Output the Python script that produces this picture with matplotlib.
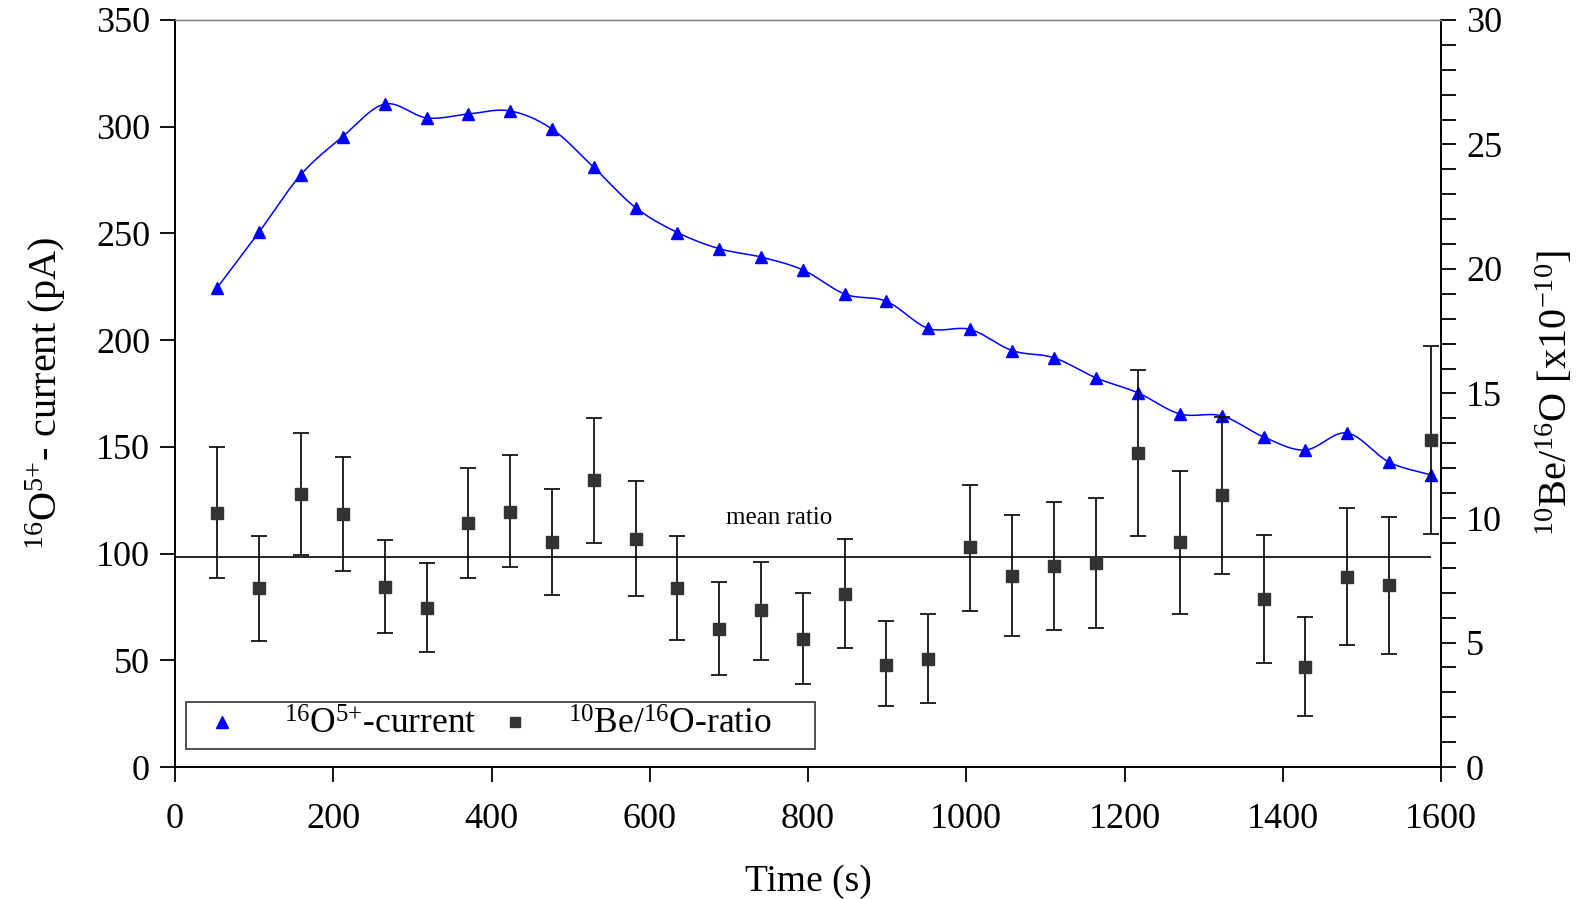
import numpy as np
import matplotlib
matplotlib.use('Agg')
from matplotlib import pyplot as plt
from matplotlib.lines import Line2D
from matplotlib.ticker import MultipleLocator

plt.rcParams['font.family'] = 'Liberation Serif'
plt.rcParams['mathtext.fontset'] = 'custom'
plt.rcParams['mathtext.rm'] = 'Liberation Serif'
plt.rcParams['mathtext.it'] = 'Liberation Serif:italic'
plt.rcParams['mathtext.default'] = 'rm'

#  measurement times (s)
time_s = [53, 106, 159, 212, 265, 318, 370, 423, 476, 529,
          582, 635, 688, 741, 794, 847, 899, 952, 1005, 1058,
          1111, 1164, 1217, 1270, 1323, 1376, 1428, 1481, 1534, 1587]

#  16O5+ current (pA)
current = [224.4, 250.5, 277.5, 295.4, 310.6, 304.1, 305.9, 307.4, 299.0, 281.0,
           262.1, 250.4, 242.8, 238.9, 232.8, 221.5, 218.2, 205.5, 205.0, 195.1,
           191.7, 182.3, 175.3, 165.4, 164.5, 154.6, 148.5, 156.5, 142.9, 136.8]

#  10Be/16O ratio (x1e-10) with upper and lower error bar ends
ratio = [10.22, 7.18, 10.95, 10.17, 7.23, 6.39, 9.80, 10.25, 9.03, 11.51,
         9.17, 7.20, 5.56, 6.29, 5.16, 6.93, 4.11, 4.35, 8.82, 7.68,
         8.09, 8.21, 12.61, 9.02, 10.94, 6.75, 4.03, 7.65, 7.29, 13.14]
ratio_hi = [12.86, 9.26, 13.41, 12.43, 9.11, 8.19, 11.99, 12.52, 11.18, 14.02,
            11.47, 9.26, 7.44, 8.25, 6.97, 9.14, 5.85, 6.15, 11.33, 10.11,
            10.66, 10.81, 15.95, 11.89, 14.07, 9.30, 6.04, 10.39, 10.06, 16.92]
ratio_lo = [7.60, 5.08, 8.51, 7.88, 5.37, 4.60, 7.61, 8.02, 6.91, 8.99,
            6.85, 5.10, 3.69, 4.28, 3.32, 4.76, 2.47, 2.56, 6.26, 5.25,
            5.51, 5.60, 9.26, 6.15, 7.76, 4.17, 2.03, 4.91, 4.54, 9.37]
mean_ratio = 8.44


def smooth_line(x, y, n=20):
    #  catmull-rom style smoothing like a spreadsheet "smoothed line"
    x = np.asarray(x, float)
    y = np.asarray(y, float)
    px = np.concatenate([[2*x[0]-x[1]], x, [2*x[-1]-x[-2]]])
    py = np.concatenate([[2*y[0]-y[1]], y, [2*y[-1]-y[-2]]])
    t = np.linspace(0, 1, n, endpoint=False)
    xs, ys = [], []
    for i in range(1, len(px) - 2):
        for p, out in ((px, xs), (py, ys)):
            p0, p1, p2, p3 = p[i-1], p[i], p[i+1], p[i+2]
            out.extend(0.5*((2*p1) + (-p0 + p2)*t + (2*p0 - 5*p1 + 4*p2 - p3)*t**2
                            + (-p0 + 3*p1 - 3*p2 + p3)*t**3))
    xs.append(x[-1])
    ys.append(y[-1])
    return np.array(xs), np.array(ys)


fig = plt.figure(figsize=(15.81, 8.99), dpi=100)
ax = fig.add_axes([0.1107, 0.1468, 0.8008, 0.831])
ax2 = ax.twinx()

#  current on the left axis
sx, sy = smooth_line(time_s, current)
ax.plot(sx, sy, color='#0000ff', linewidth=1.1)
ax.plot(time_s, current, linestyle='none', marker='^', markersize=8.5,
        color='#0000ff')

#  ratio on the right axis
err = [np.subtract(ratio, ratio_lo), np.subtract(ratio_hi, ratio)]
ax2.errorbar(time_s, ratio, yerr=err, fmt='s', color='#333333', markersize=8,
             ecolor='black', elinewidth=1.2, capsize=6, capthick=1.2)
ax2.hlines(mean_ratio, 0, time_s[-1], color='black', linewidth=1.2)
ax2.text(764, mean_ratio + 1.55, 'mean ratio', fontsize=18, ha='center',
         va='center')

ax.set_xlim(0, 1600)
ax.set_ylim(0, 350)
ax2.set_ylim(0, 30)
ax.xaxis.set_major_locator(MultipleLocator(200))
ax.yaxis.set_major_locator(MultipleLocator(50))
ax2.yaxis.set_major_locator(MultipleLocator(5))
ax2.yaxis.set_minor_locator(MultipleLocator(1))

for a in (ax, ax2):
    a.tick_params(which='both', direction='out', length=11, width=1.3,
                  labelsize=26, pad=7)
    a.spines['top'].set_color('#888888')
    a.spines['top'].set_linewidth(1.0)
    for s in ('left', 'right', 'bottom'):
        a.spines[s].set_linewidth(1.3)
ax.tick_params(axis='x', pad=15)

ax.set_xlabel('Time (s)', fontsize=27, labelpad=20)
ax.set_ylabel('$^{16}$O$^{5{+}}$- current (pA)', fontsize=29, labelpad=20)
ax2.set_ylabel('$^{10}$Be/$^{16}$O [x10$^{{-}10}$]', fontsize=29, labelpad=24)

handles = [Line2D([], [], linestyle='none', marker='^', markersize=8,
                  color='#0000ff'),
           Line2D([], [], linestyle='none', marker='s', markersize=7.5,
                  color='#333333')]
labels = [' $^{16}$O$^{5{+}}$-current', '$^{10}$Be/$^{16}$O-ratio\u2003\u2002']
leg = ax2.legend(handles, labels, loc='lower left', bbox_to_anchor=(0.009, 0.024),
                 borderaxespad=0, ncol=2, fontsize=25.5, frameon=True,
                 fancybox=False, edgecolor='black', handletextpad=0.69,
                 columnspacing=0.3, borderpad=0.2, handlelength=1.6)
leg.get_frame().set_linewidth(1.2)

fig.savefig('out.png', dpi=100)
